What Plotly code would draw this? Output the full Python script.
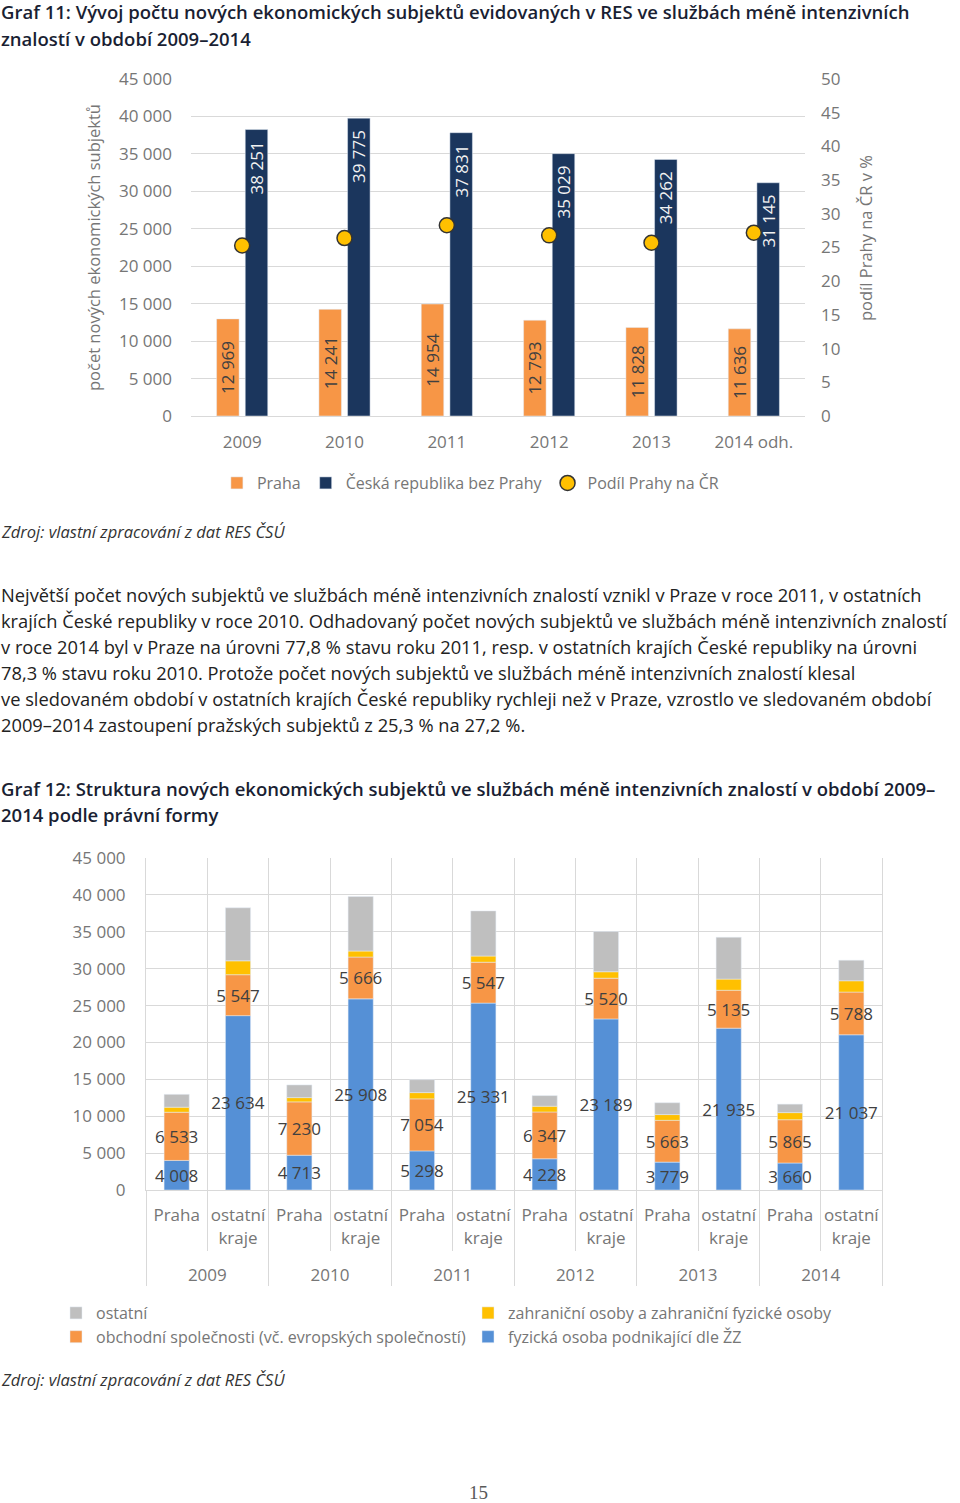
import plotly.graph_objects as go

W, H = 960, 1503

# ---------------- data: chart 1 ----------------
years1 = ["2009", "2010", "2011", "2012", "2013", "2014 odh."]
praha = [12969, 14241, 14954, 12793, 11828, 11636]
cr_bez = [38251, 39775, 37831, 35029, 34262, 31145]
podil = [25.3, 26.4, 28.3, 26.8, 25.7, 27.2]
ticks1_left = [0, 5000, 10000, 15000, 20000, 25000, 30000, 35000, 40000, 45000]
ticks1_right = [0, 5, 10, 15, 20, 25, 30, 35, 40, 45, 50]

# ---------------- data: chart 2 ----------------
years2 = ["2009", "2010", "2011", "2012", "2013", "2014"]
regions = ["Praha", "ostatní<br>kraje<br>\u00a0"]
fyz = [4008, 23634, 4713, 25908, 5298, 25331, 4228, 23189, 3779, 21935, 3660, 21037]
obch = [6533, 5547, 7230, 5666, 7054, 5547, 6347, 5520, 5663, 5135, 5865, 5788]
zahr = [680, 1880, 580, 816, 850, 835, 780, 874, 782, 1520, 965, 1535]
ost = [1748, 7190, 1718, 7385, 1752, 6118, 1438, 5446, 1604, 5672, 1146, 2785]

# ---------------- texts ----------------
title1 = ["Graf 11: Vývoj počtu nových ekonomických subjektů evidovaných v RES ve službách méně intenzivních",
          "znalostí v období 2009–2014"]
title2 = ["Graf 12: Struktura nových ekonomických subjektů ve službách méně intenzivních znalostí v období 2009–",
          "2014 podle právní formy"]
source = "Zdroj: vlastní zpracování z dat RES ČSÚ"
body = [
    "Největší počet nových subjektů ve službách méně intenzivních znalostí vznikl v Praze v roce 2011, v ostatních",
    "krajích České republiky v roce 2010. Odhadovaný počet nových subjektů ve službách méně intenzivních znalostí",
    "v roce 2014 byl v Praze na úrovni 77,8 % stavu roku 2011, resp. v ostatních krajích České republiky na úrovni",
    "78,3 % stavu roku 2010. Protože počet nových subjektů ve službách méně intenzivních znalostí klesal",
    "ve sledovaném období v ostatních krajích České republiky rychleji než v Praze, vzrostlo ve sledovaném období",
    "2009–2014 zastoupení pražských subjektů z 25,3 % na 27,2 %.",
]

# ---------------- style ----------------
FONT = "Open Sans, Liberation Sans, sans-serif"
TICKC = "#767676"
GRID = "#D9D9D9"
C_OR = "#F79646"
C_NAVY = "#1B365D"
C_YEL = "#FFC000"
C_BLUE = "#5590D6"
C_GRAY = "#BFBFBF"
LBL = "#404040"


def fx(p):
    return p / W


def fy(p):
    return 1 - p / H


def fmt(v):
    return f"{v:,}".replace(",", " ")


fig = go.Figure()

# ---- chart 1 bars ----
fig.add_trace(go.Bar(
    x=years1, y=praha, name="Praha", marker_color=C_OR,
    offset=-0.25, width=0.22,
    text=[fmt(v) for v in praha], textposition="inside", insidetextanchor="middle",
    textangle=-90, constraintext="none",
    textfont=dict(family=FONT, size=17, color=LBL),
    xaxis="x", yaxis="y", legend="legend",
))
fig.add_trace(go.Bar(
    x=years1, y=cr_bez, name="Česká republika bez Prahy", marker_color=C_NAVY,
    offset=0.03, width=0.22,
    text=[fmt(v) + "\u00a0\u00a0" for v in cr_bez], textposition="inside", insidetextanchor="end",
    textangle=-90, constraintext="none",
    textfont=dict(family=FONT, size=17, color="#F2F2F2"),
    xaxis="x", yaxis="y", legend="legend",
))
fig.add_trace(go.Scatter(
    x=years1, y=podil, name="Podíl Prahy na ČR", mode="markers",
    marker=dict(size=15, color=C_YEL, line=dict(color="#333333", width=1.5)),
    xaxis="x", yaxis="y2", legend="legend",
))

# ---- chart 2 stacked bars ----
x2 = [[y for y in years2 for _ in regions], [r for _ in years2 for r in regions]]
base_obch = list(fyz)
base_zahr = [a + b for a, b in zip(fyz, obch)]
base_ost = [a + b + c for a, b, c in zip(fyz, obch, zahr)]

common2 = dict(xaxis="x2", yaxis="y3", legend="legend2", width=0.41)
fig.add_trace(go.Bar(
    x=x2, y=fyz, name="fyzická osoba podnikající dle ŽZ", marker_color=C_BLUE,
    text=[fmt(v) for v in fyz], textposition="inside", insidetextanchor="middle",
    textangle=0, constraintext="none", textfont=dict(family=FONT, size=17, color=LBL),
    legendrank=4, **common2))
fig.add_trace(go.Bar(
    x=x2, y=obch, base=base_obch, name="obchodní společnosti (vč. evropských společností)",
    marker_color=C_OR,
    text=[fmt(v) for v in obch], textposition="inside", insidetextanchor="middle",
    textangle=0, constraintext="none", textfont=dict(family=FONT, size=17, color=LBL),
    legendrank=3, **common2))
fig.add_trace(go.Bar(
    x=x2, y=zahr, base=base_zahr, name="zahraniční osoby a zahraniční fyzické osoby",
    marker_color=C_YEL, legendrank=2, **common2))
fig.add_trace(go.Bar(
    x=x2, y=ost, base=base_ost, name="ostatní",
    marker_color=C_GRAY, legendrank=1, **common2))

tickfont = dict(family=FONT, size=17, color=TICKC)

fig.update_layout(
    width=W, height=H,
    margin=dict(l=0, r=0, t=0, b=0, autoexpand=False),
    paper_bgcolor="white", plot_bgcolor="white",
    barmode="overlay",
    separators=", ",
    showlegend=True,
    font=dict(family=FONT, color=TICKC),
    xaxis=dict(
        domain=[fx(191), fx(805)], anchor="y", type="category", automargin=False,
        range=[-0.5, 5.5], showgrid=False, showline=True, linecolor=GRID, linewidth=1,
        ticks="", tickfont=tickfont, ticklabelstandoff=11, fixedrange=True, zeroline=False,
    ),
    yaxis=dict(
        domain=[fy(416), fy(79)], anchor="x", range=[0, 45000], automargin=False,
        tickvals=ticks1_left, tickformat=",d", showgrid=True, gridcolor=GRID, gridwidth=1,
        zeroline=False, ticks="", tickfont=tickfont, ticklabelstandoff=18,
    ),
    yaxis2=dict(
        overlaying="y", side="right", anchor="x", range=[0, 50], automargin=False,
        tickvals=ticks1_right, showgrid=False, zeroline=False, ticks="",
        tickfont=tickfont, ticklabelstandoff=15,
    ),
    xaxis2=dict(
        domain=[fx(146), fx(882)], anchor="y3", type="multicategory", automargin=False,
        showgrid=True, gridcolor=GRID, showline=True, linecolor=GRID, zeroline=False,
        ticks="outside", ticklen=60, tickcolor=GRID, tickson="boundaries",
        showdividers=True, dividercolor=GRID, dividerwidth=1,
        tickfont=tickfont, tickangle=0, ticklabelstandoff=10,
    ),
    yaxis3=dict(
        domain=[fy(1190), fy(858)], anchor="x2", range=[0, 45000], automargin=False,
        tickvals=ticks1_left, tickformat=",d", showgrid=True, gridcolor=GRID,
        zeroline=False, ticks="", tickfont=tickfont, ticklabelstandoff=16,
        showline=True, linecolor=GRID, mirror=True,
    ),
    legend=dict(
        orientation="h", x=0.49, xanchor="center", y=fy(483), yanchor="middle",
        font=dict(family=FONT, size=16, color=TICKC), bgcolor="rgba(0,0,0,0)",
    ),
    legend2=dict(
        orientation="h", x=fx(56), xanchor="left", y=fy(1296), yanchor="top",
        entrywidth=367, entrywidthmode="pixels", traceorder="normal",
        font=dict(family=FONT, size=16, color=TICKC), bgcolor="rgba(0,0,0,0)",
    ),
)

ann = []


def text_ann(txt, x, y, size, color, **kw):
    ann.append(dict(text=txt, x=fx(x), y=fy(y), xref="paper", yref="paper",
                    xanchor=kw.pop("xanchor", "left"), yanchor="middle", showarrow=False,
                    font=dict(family=kw.pop("family", FONT), size=size, color=color,
                              **kw.pop("fontkw", {})),
                    **kw))


TITLEC = "#1A1F33"
for i, line in enumerate(title1):
    text_ann(line, -1, 12 + 26 * i, 18.5, TITLEC, fontkw=dict(weight=600))
for i, line in enumerate(title2):
    text_ann(line, -1, 788 + 26 * i, 18.5, TITLEC, fontkw=dict(weight=600))
for i, line in enumerate(body):
    text_ann(line, -1, 594 + 26 * i, 18.3, "#222222")
text_ann(source, -1, 531, 16.5, "#333333", fontkw=dict(style="italic"))
text_ann(source, -1, 1379, 16.5, "#333333", fontkw=dict(style="italic"))

# axis titles chart 1
text_ann("počet nových ekonomických subjektů", 93, 248, 16.5, TICKC, xanchor="center", textangle=-90)
text_ann("podíl Prahy na ČR v %", 866, 238, 16.5, TICKC, xanchor="center", textangle=-90)

# page number
text_ann("15", 478, 1492, 19, "#595959", xanchor="center", family="Liberation Serif, serif")

fig.update_layout(annotations=ann)

fig.write_html("out.html", config={"displayModeBar": False},
               post_script="document.body.style.margin='0';")
